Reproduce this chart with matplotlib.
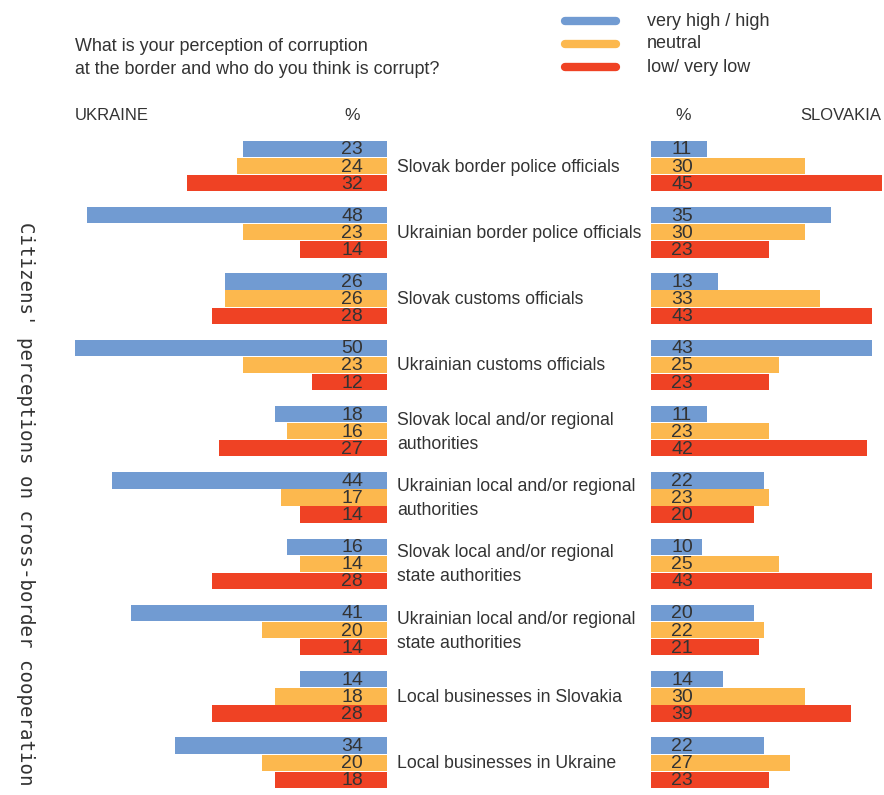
import matplotlib
matplotlib.use("Agg")
import matplotlib.pyplot as plt
from matplotlib import font_manager
from matplotlib.lines import Line2D

# Data
categories = [
    "Slovak border police officials",
    "Ukrainian border police officials",
    "Slovak customs officials",
    "Ukrainian customs officials",
    "Slovak local and/or regional\nauthorities",
    "Ukrainian local and/or regional\nauthorities",
    "Slovak local and/or regional\nstate authorities",
    "Ukrainian local and/or regional\nstate authorities",
    "Local businesses in Slovakia",
    "Local businesses in Ukraine",
]
series_names = ["very high / high", "neutral", "low/ very low"]

ukraine_high = [23, 48, 26, 50, 18, 44, 16, 41, 14, 34]
ukraine_neutral = [24, 23, 26, 23, 16, 17, 14, 20, 18, 20]
ukraine_low = [32, 14, 28, 12, 27, 14, 28, 14, 28, 18]

slovakia_high = [11, 35, 13, 43, 11, 22, 10, 20, 14, 22]
slovakia_neutral = [30, 30, 33, 25, 23, 23, 25, 22, 30, 27]
slovakia_low = [45, 23, 43, 23, 42, 20, 43, 21, 39, 23]

colors = ["#719bd2", "#fcb84e", "#ef4224"]
text_color = "#333333"

installed = {f.name for f in font_manager.fontManager.ttflist}
narrow = "Liberation Sans Narrow" if "Liberation Sans Narrow" in installed else "Liberation Sans"
plt.rcParams["font.family"] = [narrow, "DejaVu Sans"]

W, H = 884, 795
fig = plt.figure(figsize=(W / 100, H / 100), dpi=100)


def fx(px):
    return px / W


def fy(py):
    return 1 - py / H


# y layout (pixel-derived)
top_px, bot_px = 130, 795
g0, pitch = 166, 66.3
ylim = ((bot_px - g0) / pitch, (top_px - g0) / pitch)
bar_step, bar_h = 0.258, 0.245

ax_l = fig.add_axes([fx(75), fy(bot_px), fx(387 - 75), (bot_px - top_px) / H])
ax_r = fig.add_axes([fx(651), fy(bot_px), fx(882 - 651), (bot_px - top_px) / H])
ax_l.set_xlim(50, 0)
ax_r.set_xlim(0, 45)

left_series = [ukraine_high, ukraine_neutral, ukraine_low]
right_series = [slovakia_high, slovakia_neutral, slovakia_low]

for ax, series, off in [(ax_l, left_series, -35), (ax_r, right_series, 31)]:
    for j, vals in enumerate(series):
        ys = [i + (j - 1) * bar_step for i in range(len(categories))]
        ax.barh(ys, vals, height=bar_h, color=colors[j], linewidth=0)
        for y, v in zip(ys, vals):
            ax.annotate(str(v), xy=(0, y), xytext=(off, -1), textcoords="offset pixels",
                        ha="center", va="center", fontsize=14, color=text_color)
    ax.set_ylim(*ylim)
    ax.axis("off")

# category labels between panels
for i, cat in enumerate(categories):
    y_px = g0 + i * pitch + 1
    fig.text(fx(397), fy(y_px), cat, ha="left", va="center", fontsize=12.7,
             color=text_color, linespacing=1.55)

# header texts
fig.text(fx(75), fy(58), "What is your perception of corruption\nat the border and who do you think is corrupt?",
         ha="left", va="center", fontsize=12.9, color=text_color, linespacing=1.4)
fig.text(fx(75), fy(115), "UKRAINE", ha="left", va="center", fontsize=12, color=text_color)
fig.text(fx(352), fy(115), "%", ha="center", va="center", fontsize=12.5, color=text_color)
fig.text(fx(683), fy(115), "%", ha="center", va="center", fontsize=12.5, color=text_color)
fig.text(fx(881), fy(115), "SLOVAKIA", ha="right", va="center", fontsize=12, color=text_color)

# legend
for j, name in enumerate(series_names):
    y_px = 21 + j * 23
    fig.add_artist(Line2D([fx(565), fx(616)], [fy(y_px), fy(y_px)], color=colors[j],
                          linewidth=6, solid_capstyle="round"))
    fig.text(fx(647), fy(y_px), name, ha="left", va="center", fontsize=13, color=text_color)

# vertical side title
fig.text(fx(25), fy(222), "Citizens' perceptions on cross-border cooperation", rotation=270,
         ha="center", va="top", fontsize=13.8, color=text_color, family="DejaVu Sans Mono")

fig.savefig("out.png", dpi=100)
